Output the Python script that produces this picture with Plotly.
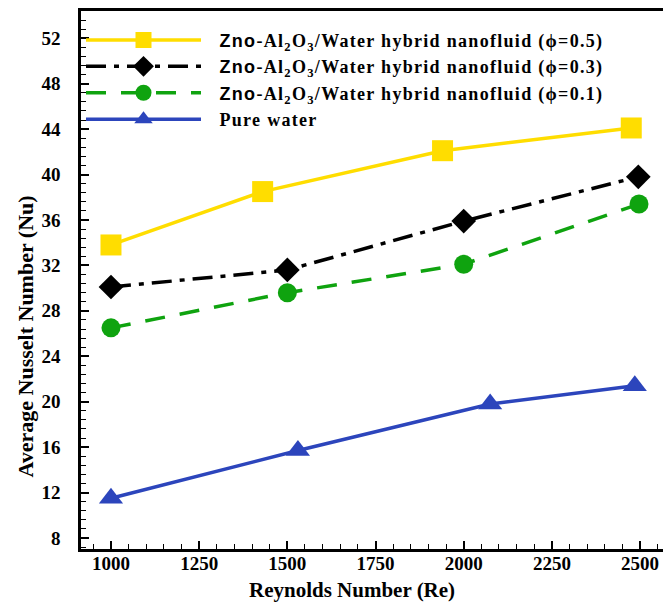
import plotly.graph_objects as go

# Data
re_phi05 = [1000, 1430, 1940, 2475]
nu_phi05 = [33.8, 38.5, 42.1, 44.1]

re_phi03 = [1000, 1500, 2000, 2495]
nu_phi03 = [30.1, 31.6, 35.9, 39.8]

re_phi01 = [1000, 1500, 2000, 2497]
nu_phi01 = [26.5, 29.6, 32.1, 37.4]

re_water = [1000, 1530, 2075, 2485]
nu_water = [11.5, 15.7, 19.8, 21.4]

x_ticks = [1000, 1250, 1500, 1750, 2000, 2250, 2500]
y_ticks = [8, 12, 16, 20, 24, 28, 32, 36, 40, 44, 48, 52]

PAD = "\u00a0\u00a0\u00a0"
LS = '<span style="letter-spacing:1.3px">'
names = [
    PAD + LS + '<span style="font-family:Liberation Sans">Zno</span>-Al<sub>2</sub>O<sub>3</sub>/Water hybrid nanofluid (\u03d5=0.5)</span>',
    PAD + LS + '<span style="font-family:Liberation Sans">Zno</span>-Al<sub>2</sub>O<sub>3</sub>/Water hybrid nanofluid (\u03d5=0.3)</span>',
    PAD + LS + '<span style="font-family:Liberation Sans">Zno</span>-Al<sub>2</sub>O<sub>3</sub>/Water hybrid nanofluid (\u03d5=0.1)</span>',
    PAD + LS + 'Pure water</span>',
]

SERIF = "Liberation Serif"

fig = go.Figure()
fig.add_trace(go.Scatter(
    x=re_phi05, y=nu_phi05, name=names[0], mode="lines+markers",
    line=dict(color="#FFDD00", width=3.5),
    marker=dict(symbol="square", size=21, color="#FFDD00"),
))
fig.add_trace(go.Scatter(
    x=re_phi03, y=nu_phi03, name=names[1], mode="lines+markers",
    line=dict(color="black", width=3.5, dash="20px,8px,5px,8px"),
    marker=dict(symbol="diamond", size=19, color="black"),
))
fig.add_trace(go.Scatter(
    x=re_phi01, y=nu_phi01, name=names[2], mode="lines+markers",
    line=dict(color="#0FA30F", width=3.5, dash="20px,15px"),
    marker=dict(symbol="circle", size=19, color="#0FA30F"),
))
fig.add_trace(go.Scatter(
    x=re_water, y=nu_water, name=names[3], mode="lines+markers",
    line=dict(color="#2C45BC", width=3.5),
    marker=dict(symbol="triangle-up", size=21, color="#2C45BC"),
))

fig.update_layout(
    width=663, height=607,
    margin=dict(l=81, r=0, t=11, b=58),
    paper_bgcolor="white", plot_bgcolor="white",
    font=dict(family=SERIF, size=19, color="black", weight="bold"),
    showlegend=True,
    legend=dict(
        x=0.0, y=0.98, xanchor="left", yanchor="top",
        bgcolor="rgba(0,0,0,0)", itemwidth=115,
        font=dict(family=SERIF, size=18, color="black", weight="bold"),
        tracegroupgap=0,
    ),
    xaxis=dict(
        range=[915, 2565], tickvals=x_ticks, ticktext=[str(v) for v in x_ticks],
        ticks="inside", ticklen=8, tickwidth=2, tickcolor="black",
        minor=dict(dtick=50, tick0=1000, ticks="inside", ticklen=5, tickwidth=1, tickcolor="black"),
        showline=True, linewidth=2.5, linecolor="black", mirror=True,
        showgrid=False, zeroline=False,
        tickfont=dict(family=SERIF, size=19, weight="bold"),
        ticklabelstandoff=-5,
    ),
    yaxis=dict(
        range=[7.03, 54.4], tickvals=y_ticks, ticktext=[str(v) for v in y_ticks],
        ticks="inside", ticklen=8, tickwidth=2, tickcolor="black",
        minor=dict(dtick=0.8, tick0=8, ticks="inside", ticklen=5, tickwidth=1, tickcolor="black"),
        showline=True, linewidth=2.5, linecolor="black", mirror=False,
        showgrid=False, zeroline=False,
        tickfont=dict(family=SERIF, size=19, weight="bold"),
        ticklabelstandoff=14,
    ),
    annotations=[
        dict(text="<b>Reynolds Number (Re)</b>", xref="paper", yref="paper",
             x=0.4656, y=-0.076, xanchor="center", yanchor="middle", showarrow=False,
             font=dict(family=SERIF, size=21, color="black")),
        dict(text="<b>Average Nusselt Number (Nu)</b>", xref="paper", yref="paper",
             x=-0.0962, y=0.395, xanchor="center", yanchor="middle", showarrow=False,
             textangle=-90, font=dict(family=SERIF, size=22, color="black")),
    ],
)

fig.write_html("out.html")
